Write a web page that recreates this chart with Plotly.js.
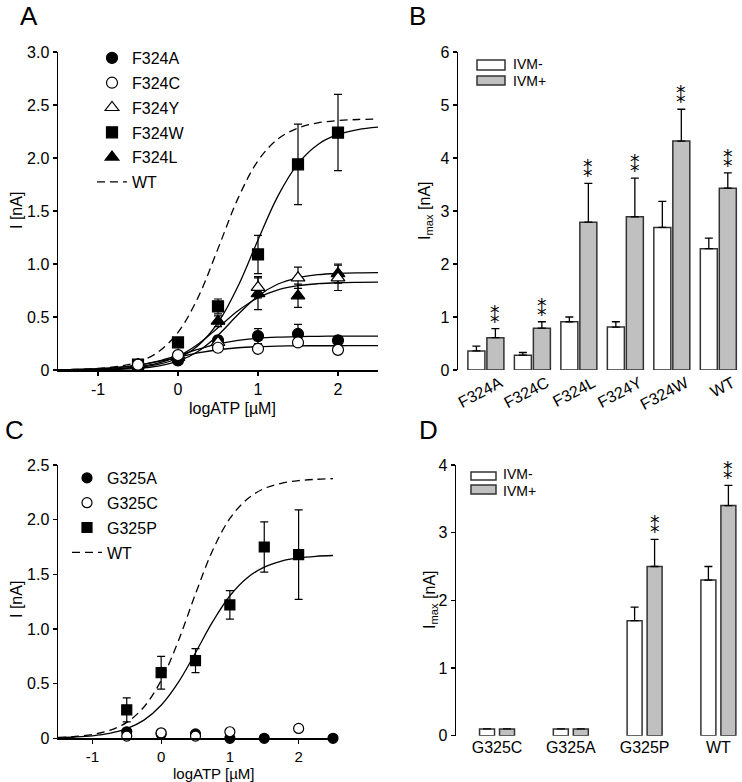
<!DOCTYPE html>
<html><head><meta charset="utf-8">
<script src="https://cdn.plot.ly/plotly-3.0.1.min.js"></script>
<style>html,body{margin:0;padding:0;background:#fff}#chart{width:742px;height:782px}</style>
</head><body><div id="chart"></div>
<script>
// ---------- Panel A data ----------
const xA = [-0.5, 0, 0.5, 1, 1.5, 2];
const F324A = [0.05, 0.09, 0.28, 0.32, 0.34, 0.28];
const errF324A = [0.01, 0.02, 0.04, 0.07, 0.09, 0.02];
const F324C = [0.05, 0.14, 0.21, 0.20, 0.26, 0.19];
const errF324C = [0.01, 0.02, 0.03, 0.02, 0.03, 0.02];
const F324Y = [0.05, 0.14, 0.26, 0.78, 0.87, 0.87];
const errF324Y = [0.01, 0.02, 0.04, 0.10, 0.10, 0.12];
const F324W = [0.05, 0.26, 0.60, 1.09, 1.94, 2.24];
const errF324W = [0.01, 0.02, 0.07, 0.18, 0.38, 0.36];
const F324L = [0.05, 0.12, 0.46, 0.72, 0.70, 0.91];
const errF324L = [0.01, 0.02, 0.05, 0.15, 0.11, 0.09];

// fitted curves
const xFit = [-1.5, -1.25, -1, -0.75, -0.5, -0.25, 0, 0.25, 0.5, 0.75, 1, 1.25, 1.5, 1.75, 2, 2.25, 2.5];
const fitA_WT = [0.003, 0.006, 0.015, 0.034, 0.076, 0.168, 0.355, 0.683, 1.145, 1.619, 1.974, 2.180, 2.283, 2.332, 2.353, 2.363, 2.367];
const fitA_W = [0.001, 0.002, 0.005, 0.011, 0.024, 0.052, 0.111, 0.229, 0.446, 0.790, 1.227, 1.643, 1.947, 2.128, 2.222, 2.268, 2.291];
const fitA_Y = [0.0005, 0.0012, 0.0029, 0.0068, 0.016, 0.037, 0.083, 0.175, 0.328, 0.523, 0.697, 0.811, 0.870, 0.899, 0.911, 0.916, 0.918];
const fitA_L = [0.0013, 0.0028, 0.0062, 0.0138, 0.030, 0.064, 0.130, 0.243, 0.398, 0.559, 0.681, 0.756, 0.795, 0.814, 0.823, 0.827, 0.829];
const fitA_A = [0.0027, 0.0055, 0.0115, 0.0234, 0.0456, 0.083, 0.136, 0.195, 0.246, 0.280, 0.300, 0.310, 0.315, 0.318, 0.319, 0.320, 0.320];
const fitA_C = [0.0028, 0.0058, 0.012, 0.024, 0.045, 0.078, 0.120, 0.161, 0.191, 0.210, 0.220, 0.225, 0.228, 0.229, 0.229, 0.230, 0.230];

// ---------- Panel B data ----------
const catsB = ['F324A', 'F324C', 'F324L', 'F324Y', 'F324W', 'WT'];
const ivmMinusB = [0.36, 0.28, 0.91, 0.81, 2.69, 2.29];
const errMinusB = [0.09, 0.05, 0.09, 0.10, 0.49, 0.20];
const ivmPlusB = [0.61, 0.79, 2.79, 2.89, 4.32, 3.43];
const errPlusB = [0.17, 0.12, 0.73, 0.73, 0.60, 0.29];
const sigB = [true, true, true, true, true, true];

// ---------- Panel C data ----------
const xC_P = [-0.5, 0, 0.5, 1, 1.5, 2];
const G325P = [0.26, 0.60, 0.71, 1.22, 1.75, 1.68];
const errG325P = [0.11, 0.15, 0.11, 0.13, 0.23, 0.41];
const xC_A = [-0.5, 0, 0.5, 1, 1.5, 2.5];
const G325A = [0.06, 0.04, 0.04, 0, 0, 0];
const xC_C = [-0.5, 0, 0.5, 1, 2];
const G325C = [0.02, 0.05, 0.02, 0.06, 0.09];
const fitC_WT = [0.008, 0.017, 0.035, 0.072, 0.146, 0.286, 0.529, 0.890, 1.321, 1.720, 2.011, 2.187, 2.285, 2.333, 2.357, 2.369, 2.375];
const fitC_P = [0.006, 0.012, 0.023, 0.045, 0.088, 0.166, 0.302, 0.511, 0.783, 1.067, 1.304, 1.467, 1.566, 1.621, 1.650, 1.665, 1.672];

// ---------- Panel D data ----------
const catsD = ['G325C', 'G325A', 'G325P', 'WT'];
const ivmMinusD = [0.1, 0.1, 1.7, 2.3];
const errMinusD = [0, 0, 0.2, 0.2];
const ivmPlusD = [0.1, 0.1, 2.5, 3.4];
const errPlusD = [0, 0, 0.4, 0.3];
const sigD = [false, false, true, true];

// tick labels
const tickValsA = [0, 0.5, 1, 1.5, 2, 2.5, 3];
const tickTextA = ['0', '0.5', '1.0', '1.5', '2.0', '2.5', '3.0'];
const tickValsC = [0, 0.5, 1, 1.5, 2, 2.5];
const tickTextC = ['0', '0.5', '1.0', '1.5', '2.0', '2.5'];
const tickValsX = [-1, 0, 1, 2];
const tickTextX = ['-1', '0', '1', '2'];

// ---------- build ----------
const W = 742, H = 782;
const px = v => v / W, py = v => 1 - v / H;
const FONT = 'Arial, "Liberation Sans", sans-serif';
const FS = 16;

function fit(x, y, xa, ya, dash, name, legend, rank) {
  const t = {type: 'scatter', mode: 'lines', x: x, y: y, xaxis: xa, yaxis: ya,
    line: {color: 'black', width: 1.3, shape: 'spline', dash: dash || 'solid'},
    hoverinfo: 'skip', cliponaxis: false};
  if (name) { t.name = name; t.legend = legend; t.legendrank = rank; t.legendgroup = name; }
  else { t.showlegend = false; }
  return t;
}
function pts(name, x, y, err, symbol, size, fill, xa, ya, legend, rank) {
  const t = {type: 'scatter', mode: 'markers', name: name, x: x, y: y, xaxis: xa, yaxis: ya,
    legend: legend, legendrank: rank, legendgroup: name, cliponaxis: false,
    marker: {symbol: symbol, size: size, color: fill, line: {color: 'black', width: 1.2}}};
  if (err) t.error_y = {type: 'data', array: err, visible: true, color: 'black', thickness: 1.2, width: 4};
  return t;
}
function bars(cats, y, err, color, xa, ya, width, offset) {
  return {type: 'bar', x: cats, y: y, xaxis: xa, yaxis: ya, width: width, offset: offset,
    marker: {color: color, line: {color: '#333', width: 1.5}}, showlegend: false, hoverinfo: 'skip',
    error_y: {type: 'data', symmetric: false, array: err, arrayminus: err.map(() => 0),
      color: 'black', thickness: 1.3, width: 4}};
}

const traces = [
  // A
  fit(xFit, fitA_WT, 'x', 'y', '8px,5px', 'WT', 'legend', 6),
  fit(xFit, fitA_W, 'x', 'y'),
  fit(xFit, fitA_Y, 'x', 'y'),
  fit(xFit, fitA_L, 'x', 'y'),
  fit(xFit, fitA_A, 'x', 'y'),
  fit(xFit, fitA_C, 'x', 'y'),
  pts('F324W', xA, F324W, errF324W, 'square', 11, 'black', 'x', 'y', 'legend', 4),
  pts('F324L', xA, F324L, errF324L, 'triangle-up', 12, 'black', 'x', 'y', 'legend', 5),
  pts('F324A', xA, F324A, errF324A, 'circle', 11, 'black', 'x', 'y', 'legend', 1),
  pts('F324Y', xA, F324Y, errF324Y, 'triangle-up', 12, 'white', 'x', 'y', 'legend', 3),
  pts('F324C', xA, F324C, errF324C, 'circle', 11, 'white', 'x', 'y', 'legend', 2),
  // B
  bars(catsB, ivmMinusB, errMinusB, 'white', 'x2', 'y2', 0.366, -0.387),
  bars(catsB, ivmPlusB, errPlusB, '#c0c0c0', 'x2', 'y2', 0.366, 0.0215),
  // C
  fit(xFit, fitC_WT, 'x3', 'y3', '8px,5px', 'WT', 'legend2', 4),
  fit(xFit, fitC_P, 'x3', 'y3'),
  pts('G325P', xC_P, G325P, errG325P, 'square', 10, 'black', 'x3', 'y3', 'legend2', 3),
  pts('G325A', xC_A, G325A, null, 'circle', 10, 'black', 'x3', 'y3', 'legend2', 1),
  pts('G325C', xC_C, G325C, null, 'circle', 10, 'white', 'x3', 'y3', 'legend2', 2),
  // D
  bars(catsD, ivmMinusD, errMinusD, 'white', 'x4', 'y4', 0.203, -0.237),
  bars(catsD, ivmPlusD, errPlusD, '#c0c0c0', 'x4', 'y4', 0.203, 0.034)
];

const axisBase = {showgrid: false, zeroline: false, showline: true, linecolor: 'black', linewidth: 1.5,
  ticks: 'outside', ticklen: 4, tickwidth: 1.2, tickcolor: 'black',
  tickfont: {family: FONT, size: FS, color: 'black'}, fixedrange: true};

const annotations = [];
function ann(text, x, y, opt) {
  annotations.push(Object.assign({text: text, xref: 'paper', yref: 'paper', x: px(x), y: py(y),
    showarrow: false, font: {family: FONT, size: FS, color: 'black'}, xanchor: 'center', yanchor: 'middle'}, opt || {}));
}
// panel letters
ann('A', 18, 16, {xanchor: 'left', font: {family: FONT, size: 26, color: 'black'}});
ann('B', 407, 16, {xanchor: 'left', font: {family: FONT, size: 26, color: 'black'}});
ann('C', 3, 430, {xanchor: 'left', font: {family: FONT, size: 26, color: 'black'}});
ann('D', 417, 430, {xanchor: 'left', font: {family: FONT, size: 26, color: 'black'}});
// axis titles
ann('logATP [µM]', 232, 408);
ann('logATP [µM]', 213, 773, {font: {family: FONT, size: 15, color: 'black'}, borderpad: 0});
ann('I [nA]', 16, 211, {textangle: -90});
ann('I [nA]', 16, 600, {textangle: -90});
ann('I<sub>max</sub> [nA]', 425, 211, {textangle: -90});
ann('I<sub>max</sub> [nA]', 430, 600, {textangle: -90});
// bar legends
const LF = {family: FONT, size: 14, color: 'black'};
ann('IVM-', 512, 64.5, {xanchor: 'left', font: LF, borderpad: 0});
ann('IVM+', 512, 81, {xanchor: 'left', font: LF, borderpad: 0});
ann('IVM-', 502, 474, {xanchor: 'left', font: LF, borderpad: 0});
ann('IVM+', 502, 490.8, {xanchor: 'left', font: LF, borderpad: 0});
// significance stars: two asterisks stacked vertically (U+2051)
function stars(cats, vals, errs, sig, xa, ya, off) {
  cats.forEach((c, i) => {
    if (!sig[i]) return;
    annotations.push({text: '\u2051', xref: xa, yref: ya, x: i + off, y: vals[i] + errs[i],
      showarrow: false, yanchor: 'bottom', xanchor: 'center', yshift: 1, borderpad: 0,
      font: {family: '"DejaVu Sans", sans-serif', size: 19, color: 'black'}});
  });
}
stars(catsB, ivmPlusB, errPlusB, sigB, 'x2', 'y2', 0.0215 + 0.183);
stars(catsD, ivmPlusD, errPlusD, sigD, 'x4', 'y4', 0.034 + 0.1015);

const shapes = [
  {type: 'rect', xref: 'paper', yref: 'paper', x0: px(477), x1: px(505), y0: py(70), y1: py(60), line: {color: '#333', width: 1.5}, fillcolor: 'white'},
  {type: 'rect', xref: 'paper', yref: 'paper', x0: px(477), x1: px(505), y0: py(85), y1: py(76), line: {color: '#333', width: 1.5}, fillcolor: '#c0c0c0'},
  {type: 'rect', xref: 'paper', yref: 'paper', x0: px(471), x1: px(496), y0: py(480), y1: py(472), line: {color: '#333', width: 1.5}, fillcolor: 'white'},
  {type: 'rect', xref: 'paper', yref: 'paper', x0: px(471), x1: px(496), y0: py(494), y1: py(485), line: {color: '#333', width: 1.5}, fillcolor: '#c0c0c0'}
];

const legendBase = {xanchor: 'left', yanchor: 'top', bgcolor: 'rgba(0,0,0,0)', borderwidth: 0,
  font: {family: FONT, size: FS, color: 'black'}, traceorder: 'grouped', tracegroupgap: 1, itemwidth: 30};

const layout = {
  width: W, height: H, margin: {l: 0, r: 0, t: 0, b: 0}, paper_bgcolor: 'white', plot_bgcolor: 'white',
  showlegend: true, barmode: 'overlay', font: {family: FONT, size: FS, color: 'black'},
  xaxis: Object.assign({}, axisBase, {domain: [px(58), px(378)], range: [-1.5, 2.5], anchor: 'y',
    tickvals: tickValsX, ticktext: tickTextX}),
  yaxis: Object.assign({}, axisBase, {domain: [py(370), py(52)], range: [0, 3], anchor: 'x',
    tickvals: tickValsA, ticktext: tickTextA}),
  xaxis2: Object.assign({}, axisBase, {domain: [px(458), 1], range: [-0.6, 5.51], anchor: 'y2', type: 'category',
    showline: false, ticks: '', tickangle: -28, ticklabelshift: 14}),
  yaxis2: Object.assign({}, axisBase, {domain: [py(370), py(52)], range: [0, 6], anchor: 'x2',
    tickvals: [0, 1, 2, 3, 4, 5, 6]}),
  xaxis3: Object.assign({}, axisBase, {domain: [px(58), px(333)], range: [-1.5, 2.5], anchor: 'y3',
    tickvals: tickValsX, ticktext: tickTextX, tickfont: {family: FONT, size: 15, color: 'black'}}),
  yaxis3: Object.assign({}, axisBase, {domain: [py(738.3), py(465)], range: [0, 2.5], anchor: 'x3',
    tickvals: tickValsC, ticktext: tickTextC}),
  xaxis4: Object.assign({}, axisBase, {domain: [px(456), 1], range: [-0.556, 3.32], anchor: 'y4', type: 'category',
    showline: false, ticks: ''}),
  yaxis4: Object.assign({}, axisBase, {domain: [py(735.7), py(465)], range: [0, 4], anchor: 'x4',
    tickvals: [0, 1, 2, 3, 4]}),
  legend: Object.assign({}, legendBase, {x: px(92), y: py(41)}),
  legend2: Object.assign({}, legendBase, {x: px(67), y: py(461)}),
  annotations: annotations,
  shapes: shapes
};

Plotly.newPlot('chart', traces, layout, {displayModeBar: false, staticPlot: true});
</script></body></html>
